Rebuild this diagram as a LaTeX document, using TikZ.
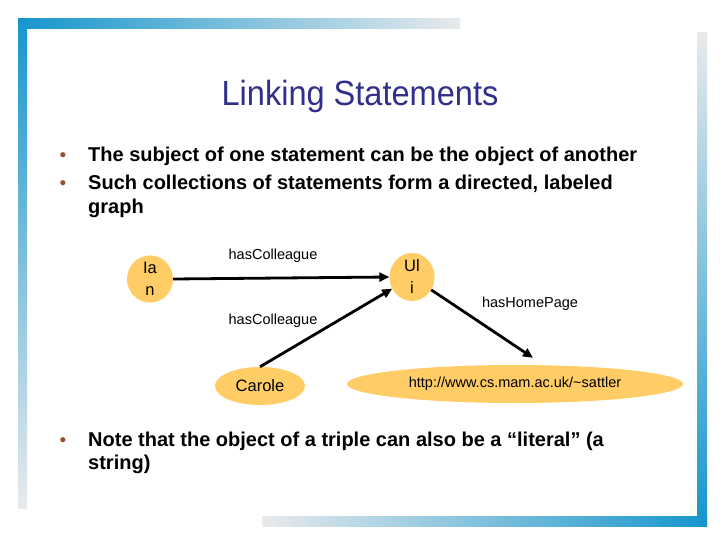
\documentclass[tikz,border=0pt]{standalone}
\usepackage{fontspec}
\setmainfont{Liberation Sans}
\usetikzlibrary{shapes.geometric,arrows.meta}
\definecolor{barblue}{RGB}{22,150,205}
\definecolor{bargray}{RGB}{232,234,236}
\definecolor{titleblue}{RGB}{48,48,140}
\definecolor{nodefill}{RGB}{255,204,102}
\definecolor{bulletbrown}{RGB}{150,80,45}
\tikzset{
  nodeell/.style={ellipse,fill=nodefill,draw=none,inner sep=0pt,align=center,font=\fontsize{16.5}{22}\selectfont},
  edgelabel/.style={font=\fontsize{14.5}{17}\selectfont,inner sep=0pt},
  arc/.style={line width=2.8pt,-{Triangle[length=10pt,width=9pt]}},
  bodytext/.style={anchor=base west,inner sep=0pt,font=\fontsize{20}{24}\selectfont\bfseries},
  bulletdot/.style={anchor=base,inner sep=0pt,text=bulletbrown,font=\fontsize{19}{20}\selectfont}
}
\begin{document}
\begin{tikzpicture}[x=1pt,y=-1pt]
\useasboundingbox (0,0) rectangle (720,540);
\fill[white] (0,0) rectangle (720,540);
% frame bars
\shade[left color=barblue,right color=bargray] (18,19) rectangle (460,29);
\shade[top color=barblue,bottom color=bargray] (18,19) rectangle (27,508);
\shade[top color=bargray,bottom color=barblue] (697,33) rectangle (707,526);
\shade[left color=bargray,right color=barblue] (262,516) rectangle (707,526);
% title
\node[anchor=base,inner sep=0pt,text=titleblue] (title) at (360,106)
  {\scalebox{0.93}[1]{\fontsize{35}{40}\selectfont Linking Statements}};
% bullets
\node[bulletdot] (b1) at (63,162) {•};
\node[bodytext] (t1) at (88,162) {The subject of one statement can be the object of another};
\node[bulletdot] (b2) at (63,190) {•};
\node[bodytext] (t2) at (88,190) {Such collections of statements form a directed, labeled};
\node[bodytext] (t2b) at (88,214) {graph};
\node[bulletdot] (b3) at (63,446) {•};
\node[bodytext] (t3) at (88,446) {Note that the object of a triple can also be a “literal” (a};
\node[bodytext] (t3b) at (88,469) {string)};
% graph nodes
\node[nodeell,minimum width=46pt,minimum height=42pt] (ian) at (150,279) {Ia\\n};
\node[nodeell,minimum width=45pt,minimum height=45pt] (uli) at (412,277) {Ul\\i};
\node[nodeell,minimum width=90pt,minimum height=38pt] (carole) at (260,386) {Carole};
\node[nodeell,minimum width=336pt,minimum height=38pt,font=\fontsize{14.5}{17}\selectfont] (http) at (515,384) {http://www.cs.mam.ac.uk/\char`\~sattler};
% edges
\draw[arc] (ian.east) -- (uli.west);
\draw[arc] (carole.north) -- (uli);
\draw[arc] (uli) -- ([xshift=18pt,yshift=7pt]http.north);
% edge labels
\node[edgelabel] (l1) at (273,256) {hasColleague};
\node[edgelabel] (l2) at (273,321) {hasColleague};
\node[edgelabel] (l3) at (530,304) {hasHomePage};
\end{tikzpicture}
\end{document}
